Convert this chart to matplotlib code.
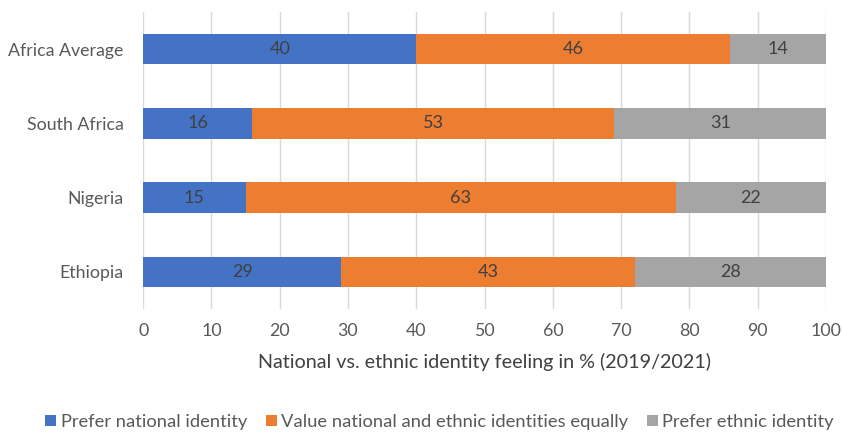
import matplotlib.pyplot as plt
import numpy as np

plt.rcParams['font.family'] = ['Lato', 'DejaVu Sans']

countries = ['Africa Average', 'South Africa', 'Nigeria', 'Ethiopia']
national = [40, 16, 15, 29]
equal = [46, 53, 63, 43]
ethnic = [14, 31, 22, 28]

series = [
    ('Prefer national identity', national, '#4472C4'),
    ('Value national and ethnic identities equally', equal, '#ED7D31'),
    ('Prefer ethnic identity', ethnic, '#A5A5A5'),
]

fig = plt.figure(figsize=(8.42, 4.32), dpi=100)
ax = fig.add_axes([0.170, 0.285, 0.811, 0.687])

y = np.arange(len(countries))
left = np.zeros(len(countries))
for name, vals, color in series:
    bars = ax.barh(y, vals, left=left, height=0.41, color=color, label=name, zorder=3)
    ax.bar_label(bars, labels=[str(v) for v in vals], label_type='center',
                 fontsize=13, color='#404040')
    left += np.array(vals)

ax.set_yticks(y)
ax.set_yticklabels(countries)
ax.set_ylim(len(countries) - 0.5, -0.5)
ax.set_xlim(0, 100)
ax.set_xticks(range(0, 101, 10))
ax.tick_params(length=0, labelsize=12.8, labelcolor='#595959')
ax.tick_params(axis='x', pad=10)
ax.tick_params(axis='y', pad=14)
ax.grid(axis='x', color='#D9D9D9', linewidth=1, zorder=0)
for s in ax.spines.values():
    s.set_visible(False)

ax.set_xlabel('National vs. ethnic identity feeling in % (2019/2021)',
              fontsize=14.2, color='#404040', labelpad=10)

fig.legend(loc='center', bbox_to_anchor=(0.522, 0.023), ncol=3, frameon=False,
           fontsize=13.2, labelcolor='#595959', handlelength=0.6, handleheight=0.6,
           handletextpad=0.25, columnspacing=1.0)

fig.savefig('out.png', dpi=100)
